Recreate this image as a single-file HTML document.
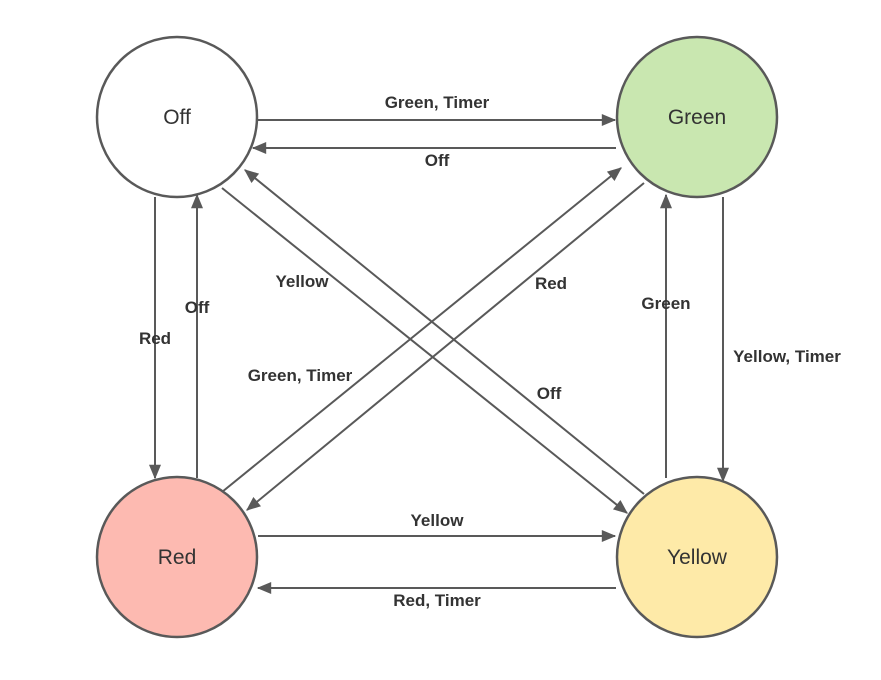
<!DOCTYPE html>
<html><head><meta charset="utf-8"><style>
html,body{margin:0;padding:0;background:#fff;}
svg{display:block;}
.l{font-family:"Liberation Sans",sans-serif;font-size:17px;font-weight:bold;fill:#333;text-anchor:middle;}
.n{font-family:"Liberation Sans",sans-serif;font-size:21px;fill:#333;text-anchor:middle;}
line{stroke:#595959;stroke-width:2;}
</style></head><body>
<svg width="881" height="680" viewBox="0 0 881 680" xmlns="http://www.w3.org/2000/svg">
<defs>
<marker id="b" viewBox="0 0 12 10" refX="11" refY="5" markerWidth="15" markerHeight="12" markerUnits="userSpaceOnUse" orient="auto"><path d="M0,0 L12,5 L0,10 z" fill="#595959"/></marker></defs>
<line x1="258" y1="120" x2="615" y2="120" marker-end="url(#b)"/>
<line x1="616" y1="148" x2="253" y2="148" marker-end="url(#b)"/>
<line x1="155" y1="197" x2="155" y2="478" marker-end="url(#b)"/>
<line x1="197" y1="478" x2="197" y2="195" marker-end="url(#b)"/>
<line x1="723" y1="197" x2="723" y2="481" marker-end="url(#b)"/>
<line x1="666" y1="478" x2="666" y2="195" marker-end="url(#b)"/>
<line x1="258" y1="536" x2="615" y2="536" marker-end="url(#b)"/>
<line x1="616" y1="588" x2="258" y2="588" marker-end="url(#b)"/>
<line x1="222" y1="188" x2="627" y2="513" marker-end="url(#b)"/>
<line x1="644" y1="494" x2="245" y2="170" marker-end="url(#b)"/>
<line x1="644" y1="183" x2="247" y2="510" marker-end="url(#b)"/>
<line x1="222" y1="492" x2="621" y2="168" marker-end="url(#b)"/>
<circle cx="177" cy="117" r="80" fill="#fff" stroke="#595959" stroke-width="2.5"/>
<circle cx="697" cy="117" r="80" fill="#c9e7b0" stroke="#595959" stroke-width="2.5"/>
<circle cx="177" cy="557" r="80" fill="#fdbab1" stroke="#595959" stroke-width="2.5"/>
<circle cx="697" cy="557" r="80" fill="#feeaa8" stroke="#595959" stroke-width="2.5"/>
<text class="n" x="177" y="124">Off</text>
<text class="n" x="697" y="124">Green</text>
<text class="n" x="177" y="564">Red</text>
<text class="n" x="697" y="564">Yellow</text>
<text class="l" x="437" y="108">Green, Timer</text>
<text class="l" x="437" y="166">Off</text>
<text class="l" x="155" y="344">Red</text>
<text class="l" x="197" y="313">Off</text>
<text class="l" x="787" y="362">Yellow, Timer</text>
<text class="l" x="666" y="309">Green</text>
<text class="l" x="437" y="526">Yellow</text>
<text class="l" x="437" y="606">Red, Timer</text>
<text class="l" x="302" y="287">Yellow</text>
<text class="l" x="549" y="399">Off</text>
<text class="l" x="551" y="289">Red</text>
<text class="l" x="300" y="381">Green, Timer</text>
</svg>
</body></html>
